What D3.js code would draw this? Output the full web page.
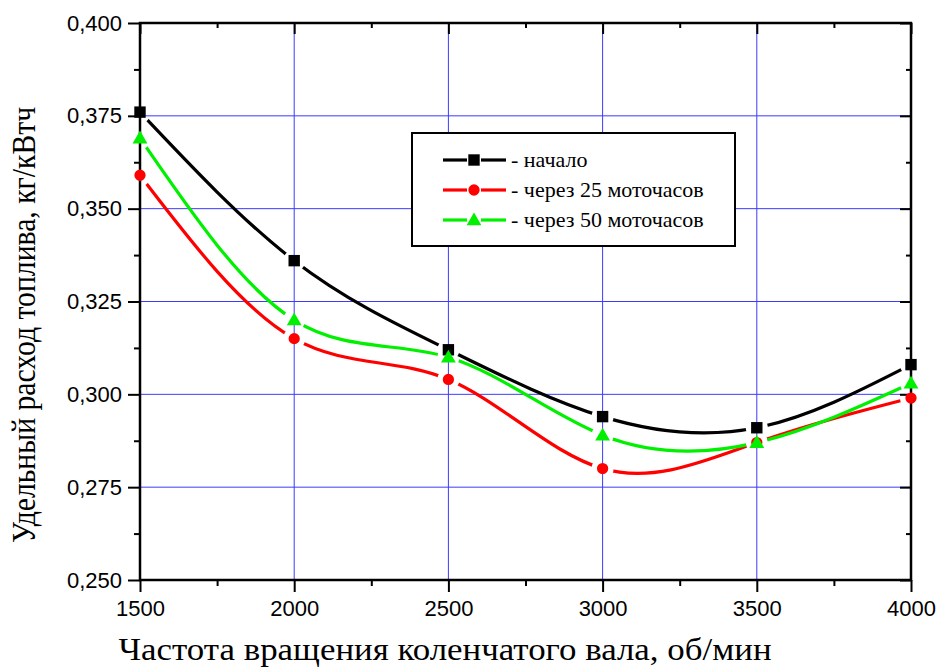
<!DOCTYPE html>
<html>
<head>
<meta charset="utf-8">
<script src="https://cdn.jsdelivr.net/npm/d3@7"></script>
<style>
  body { margin: 0; background: #fff; }
</style>
</head>
<body>
<script>
var width = 938,
    height = 668,
    margin = {top: 23, right: 27, bottom: 88, left: 140};

var rpm = [1500, 2000, 2500, 3000, 3500, 4000];
var start = [0.376, 0.336, 0.312, 0.294, 0.291, 0.308];
var after25 = [0.359, 0.315, 0.304, 0.280, 0.287, 0.299];
var after50 = [0.369, 0.320, 0.310, 0.289, 0.287, 0.303];

var xTicks = [1500, 2000, 2500, 3000, 3500, 4000];
var yTicks = [0.250, 0.275, 0.300, 0.325, 0.350, 0.375, 0.400];

var series = [
  {name: "- начало", values: start, color: "#000000", marker: "square"},
  {name: "- через 25 моточасов", values: after25, color: "#ff0000", marker: "circle"},
  {name: "- через 50 моточасов", values: after50, color: "#00f000", marker: "triangle"}
];

var serif = "'Liberation Serif', 'Times New Roman', serif";

var x = d3.scaleLinear().domain([1500, 4000]).range([margin.left, width - margin.right]);
var y = d3.scaleLinear().domain([0.250, 0.400]).range([height - margin.bottom, margin.top]);

var svg = d3.select("body").append("svg")
    .attr("width", width)
    .attr("height", height)
    .style("font-family", "'Liberation Sans', Arial, sans-serif");

var x0 = x.range()[0], x1 = x.range()[1],
    y0 = y.range()[0], y1 = y.range()[1];

// grid
svg.append("g").selectAll("line")
    .data(xTicks.slice(1, -1))
    .enter().append("line")
    .attr("x1", function(d) { return x(d); })
    .attr("x2", function(d) { return x(d); })
    .attr("y1", y0).attr("y2", y1)
    .attr("stroke", "#3b3bff").attr("stroke-width", 1);
svg.append("g").selectAll("line")
    .data(yTicks.slice(1, -1))
    .enter().append("line")
    .attr("y1", function(d) { return y(d); })
    .attr("y2", function(d) { return y(d); })
    .attr("x1", x0).attr("x2", x1)
    .attr("stroke", "#3b3bff").attr("stroke-width", 1);

var fmt = function(d) { return d3.format(".3f")(d).replace(".", ","); };
var xMinor = d3.range(1750, 4000, 500);
var yMinor = d3.range(0.2625, 0.4, 0.025);

function styleAxis(g) {
  g.select(".domain").remove();
  g.selectAll(".tick line").attr("stroke", "#000").attr("stroke-width", 2);
  g.selectAll(".tick text").attr("fill", "#000").style("font-size", "22px")
      .style("font-family", "'Liberation Sans', Arial, sans-serif");
}

// bottom
svg.append("g")
    .attr("transform", "translate(0," + y0 + ")")
    .call(d3.axisBottom(x).tickValues(xTicks).tickFormat(d3.format("d")).tickSize(12).tickPadding(8))
    .call(styleAxis);
svg.append("g")
    .attr("transform", "translate(0," + y0 + ")")
    .call(d3.axisBottom(x).tickValues(xMinor).tickFormat("").tickSize(6))
    .call(styleAxis);
// left
svg.append("g")
    .attr("transform", "translate(" + x0 + ",0)")
    .call(d3.axisLeft(y).tickValues(yTicks).tickFormat(fmt).tickSize(12).tickPadding(6))
    .call(styleAxis);
svg.append("g")
    .attr("transform", "translate(" + x0 + ",0)")
    .call(d3.axisLeft(y).tickValues(yMinor).tickFormat("").tickSize(6))
    .call(styleAxis);
// top, ticks pointing inward
svg.append("g")
    .attr("transform", "translate(0," + y1 + ")")
    .call(d3.axisTop(x).tickValues(xTicks).tickFormat("").tickSize(-11))
    .call(styleAxis);
svg.append("g")
    .attr("transform", "translate(0," + y1 + ")")
    .call(d3.axisTop(x).tickValues(xMinor).tickFormat("").tickSize(-5))
    .call(styleAxis);
// right, ticks pointing inward
svg.append("g")
    .attr("transform", "translate(" + x1 + ",0)")
    .call(d3.axisRight(y).tickValues(yTicks).tickFormat("").tickSize(-11))
    .call(styleAxis);
svg.append("g")
    .attr("transform", "translate(" + x1 + ",0)")
    .call(d3.axisRight(y).tickValues(yMinor).tickFormat("").tickSize(-5))
    .call(styleAxis);

// frame
svg.append("rect")
    .attr("x", x0).attr("y", y1)
    .attr("width", x1 - x0).attr("height", y0 - y1)
    .attr("fill", "none").attr("stroke", "#000").attr("stroke-width", 2.5);

var defs = svg.append("defs");

function markerPath(type) {
  var sym = type === "square" ? d3.symbolSquare : type === "circle" ? d3.symbolCircle : d3.symbolTriangle;
  var size = type === "square" ? 130 : type === "circle" ? 100 : 95;
  return d3.symbol().type(sym).size(size)();
}

var line = d3.line()
    .x(function(d, i) { return x(rpm[i]); })
    .y(function(d) { return y(d); })
    .curve(d3.curveNatural);

series.forEach(function(s, k) {
  // line is broken around each marker
  var mask = defs.append("mask").attr("id", "gap" + k)
      .attr("maskUnits", "userSpaceOnUse")
      .attr("x", 0).attr("y", 0).attr("width", width).attr("height", height);
  mask.append("rect").attr("width", width).attr("height", height).attr("fill", "#fff");
  mask.selectAll("circle")
      .data(s.values)
      .enter().append("circle")
      .attr("cx", function(d, i) { return x(rpm[i]); })
      .attr("cy", function(d) { return y(d); })
      .attr("r", 11)
      .attr("fill", "#000");

  svg.append("path")
      .datum(s.values)
      .attr("d", line)
      .attr("fill", "none")
      .attr("stroke", s.color)
      .attr("stroke-width", 3.2)
      .attr("mask", "url(#gap" + k + ")");
});

series.forEach(function(s) {
  svg.append("g").selectAll("path")
      .data(s.values)
      .enter().append("path")
      .attr("transform", function(d, i) {
        return "translate(" + x(rpm[i]) + "," + (y(d) + (s.marker === "triangle" ? 1 : 0)) + ")";
      })
      .attr("d", markerPath(s.marker))
      .attr("fill", s.color);
});

// legend
var legend = svg.append("g").attr("transform", "translate(412,133)");
legend.append("rect")
    .attr("width", 323).attr("height", 113)
    .attr("fill", "#fff").attr("stroke", "#000").attr("stroke-width", 2);

var rows = legend.selectAll("g.row")
    .data(series)
    .enter().append("g")
    .attr("class", "row")
    .attr("transform", function(d, i) { return "translate(0," + (27 + i * 30) + ")"; });
rows.append("line")
    .attr("x1", 31).attr("x2", 55)
    .attr("stroke", function(d) { return d.color; }).attr("stroke-width", 3.2);
rows.append("line")
    .attr("x1", 69).attr("x2", 94)
    .attr("stroke", function(d) { return d.color; }).attr("stroke-width", 3.2);
rows.append("path")
    .attr("transform", function(d) { return "translate(62," + (d.marker === "triangle" ? 1 : 0) + ")"; })
    .attr("d", function(d) { return markerPath(d.marker); })
    .attr("fill", function(d) { return d.color; });
rows.append("text")
    .attr("x", 99).attr("dy", "0.32em")
    .style("font-family", serif)
    .style("font-size", "22px")
    .text(function(d) { return d.name; });

// axis titles
svg.append("text")
    .attr("transform", "translate(445,660) scale(1.09,1)")
    .attr("text-anchor", "middle")
    .style("font-family", serif)
    .style("font-size", "32px")
    .text("Частота вращения коленчатого вала, об/мин");

svg.append("text")
    .attr("transform", "translate(35,325) rotate(-90) scale(0.9,1)")
    .attr("text-anchor", "middle")
    .style("font-family", serif)
    .style("font-size", "33px")
    .text("Удельный расход топлива, кг/кВтч");
</script>
</body>
</html>
